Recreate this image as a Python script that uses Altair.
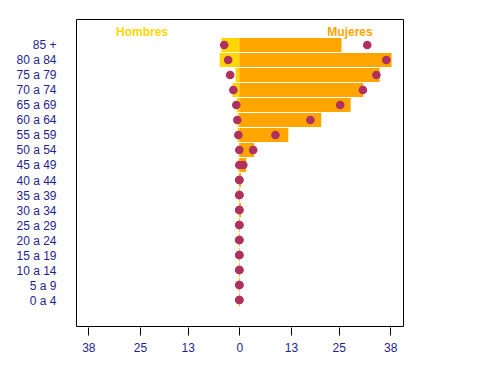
import json
import altair as alt
import pandas as pd

# age groups, bottom to top
cats = ["0 a 4", "5 a 9", "10 a 14", "15 a 19", "20 a 24", "25 a 29", "30 a 34",
        "35 a 39", "40 a 44", "45 a 49", "50 a 54", "55 a 59", "60 a 64",
        "65 a 69", "70 a 74", "75 a 79", "80 a 84", "85 +"]
men_bar = [0, 0, 0, 0, 0, 0, 0, 0, 0, 0.1, 0, 0.3, 0.3, 0.5, 1.6, 0.8, 4.8, 4.4]
women_bar = [0, 0, 0, 0, 0, 0, 0.3, 0, 0.3, 1.6, 3.6, 12.2, 20.5, 27.9, 31.1, 35.2, 38.2, 25.6]
men_dot = [0, 0, 0, 0, 0, 0, 0, 0, 0, 0, 0, 0.25, 0.5, 0.75, 1.5, 2.3, 2.8, 3.8]
women_dot = [0, 0, 0, 0, 0, 0, 0, 0, 0, 1.0, 3.5, 9.1, 17.9, 25.4, 31.1, 34.5, 37.0, 32.2]
tick_vals = [-38, -25, -13, 0, 13, 25, 38]

df = pd.DataFrame({
    "idx": list(range(len(cats))),
    "cat": cats,
    "men": [-v for v in men_bar],
    "women": women_bar,
    "men_dot": [-v for v in men_dot],
    "women_dot": women_dot,
})

label_expr = json.dumps(cats) + "[datum.value]"
xscale = alt.Scale(domain=[-41.1, 41.2], nice=False, zero=False)
yscale = alt.Scale(domain=[-1.733, 18.733], nice=False, zero=False)
lab_color = "#1f1f8f"

xaxis = alt.Axis(values=tick_vals, labelExpr="abs(datum.value)", title=None,
                 grid=False, domain=False, tickSize=8, tickColor="black",
                 offset=1, labelPadding=7, labelFontSize=12, labelColor=lab_color,
                 labelFont="Liberation Sans", labelOverlap=False)
yaxis = alt.Axis(values=list(range(len(cats))), labelExpr=label_expr, title=None,
                 grid=False, domain=False, ticks=False, labelPadding=20,
                 labelFontSize=12, labelColor=lab_color, labelFont="Liberation Sans",
                 labelOverlap=False, labelBound=False)

base = alt.Chart(df).transform_calculate(y1="datum.idx - 0.467", y2="datum.idx + 0.467")

men_bars = base.mark_bar(color="#FFD700", xOffset=-0.5).encode(
    x=alt.X("men:Q", scale=xscale, axis=xaxis),
    x2=alt.datum(0),
    y=alt.Y("y1:Q", scale=yscale, axis=yaxis),
    y2="y2:Q",
)
women_bars = base.mark_bar(color="#FFA500", xOffset=0.5).encode(
    x=alt.X("women:Q", scale=xscale, axis=xaxis),
    x2=alt.datum(0),
    y=alt.Y("y1:Q", scale=yscale, axis=yaxis),
    y2="y2:Q",
)
dots_m = alt.Chart(df).mark_circle(color="#B03060", size=75, opacity=1).encode(
    x=alt.X("men_dot:Q", scale=xscale, axis=xaxis),
    y=alt.Y("idx:Q", scale=yscale, axis=yaxis),
)
dots_w = alt.Chart(df).mark_circle(color="#B03060", size=75, opacity=1).encode(
    x=alt.X("women_dot:Q", scale=xscale, axis=xaxis),
    y=alt.Y("idx:Q", scale=yscale, axis=yaxis),
)
t_h = alt.Chart(pd.DataFrame({"t": ["Hombres"]})).mark_text(
    color="#FFD700", fontWeight="bold", fontSize=12, font="Liberation Sans"
).encode(text="t:N", x=alt.value(66), y=alt.value(13))
t_m = alt.Chart(pd.DataFrame({"t": ["Mujeres"]})).mark_text(
    color="#FFA500", fontWeight="bold", fontSize=12, font="Liberation Sans"
).encode(text="t:N", x=alt.value(274), y=alt.value(13))

chart = alt.layer(men_bars, women_bars, dots_m, dots_w, t_h, t_m).properties(
    width=327, height=307,
    padding={"left": 68, "top": 11, "right": 10, "bottom": 45},
    autosize=alt.AutoSizeParams(type="none"),
).configure_view(stroke="black", strokeWidth=1)

chart.save("out.html", embed_options={"renderer": "svg", "actions": False})
